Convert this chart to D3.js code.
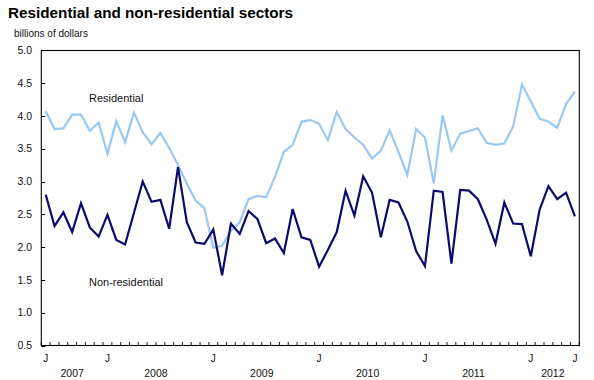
<!DOCTYPE html>
<html><head><meta charset="utf-8">
<script src="https://cdn.jsdelivr.net/npm/d3@7"></script>
<style>body{margin:0;background:#fff}svg{display:block;font-family:"Liberation Sans",Arial,sans-serif}</style>
</head><body><svg id="c" width="594" height="380"></svg>
<script>
// Monthly categories: June 2007 to June 2012
const months = d3.timeMonth.range(new Date(2007,5,1), new Date(2012,6,1)).map(d3.timeFormat("%Y-%m"));
const residential = [4.07,3.80,3.81,4.02,4.02,3.77,3.90,3.42,3.92,3.60,4.05,3.75,3.57,3.74,3.51,3.25,2.97,2.71,2.59,1.99,
  2.02,2.25,2.38,2.73,2.78,2.76,3.07,3.45,3.56,3.91,3.94,3.88,3.63,4.06,3.80,3.67,3.56,3.35,3.47,3.78,
  3.45,3.10,3.80,3.67,2.97,4.01,3.47,3.73,3.77,3.81,3.59,3.56,3.58,3.84,4.48,4.22,3.96,3.91,3.82,4.18,4.37];
const nonResidential = [2.80,2.32,2.53,2.23,2.67,2.30,2.16,2.49,2.11,2.04,2.52,3.00,2.69,2.72,2.28,3.22,2.38,2.07,2.05,2.27,
  1.57,2.36,2.20,2.55,2.43,2.06,2.13,1.91,2.58,2.15,2.11,1.70,1.96,2.23,2.86,2.48,3.08,2.83,2.15,2.72,
  2.68,2.39,1.94,1.71,2.86,2.84,1.75,2.87,2.86,2.73,2.42,2.05,2.68,2.36,2.35,1.86,2.57,2.93,2.73,2.83,2.47];
const yTicks = [5.0,4.5,4.0,3.5,3.0,2.5,2.0,1.5,1.0,0.5];
const monthLabelAt = ["2007-06","2008-01","2009-01","2010-01","2011-01","2012-01","2012-06"];
const monthLabelText = ["J","J","J","J","J","J","J"];
const years = ["2007","2008","2009","2010","2011","2012"];
const seriesNames = ["Residential","Non-residential"];
const title = "Residential and non-residential sectors";
const unit = "billions of dollars";

const svg = d3.select("#c");
const L = 41.3, R = 579.3, T = 50.3, B = 345.5;
const x = d3.scalePoint().domain(months).range([L, R]).padding(0.5);
const step = x.step();
const y = d3.scaleLinear().domain([0.5, 5]).range([B, T]);

svg.append("text").attr("x", 8).attr("y", 18).attr("font-weight", "bold").attr("font-size", 15)
  .attr("textLength", 285).attr("lengthAdjust", "spacingAndGlyphs").text(title);
svg.append("text").attr("x", 14).attr("y", 37).attr("font-size", 10).attr("fill", "#111").text(unit);

// y axis labels and ticks
svg.append("g").selectAll("text").data(yTicks).join("text")
  .attr("x", 32).attr("y", d => y(d)).attr("dy", "0.35em").attr("text-anchor", "end")
  .attr("font-size", 10.5).attr("fill", "#111").text(d => d.toFixed(1));
svg.append("g").selectAll("line").data(yTicks).join("line")
  .attr("x1", L).attr("x2", L + 4).attr("y1", d => Math.round(y(d)) + 0.5).attr("y2", d => Math.round(y(d)) + 0.5)
  .attr("stroke", "#000");

// month boundary ticks
const bounds = months.map(m => x(m) - step / 2).concat([R]);
svg.append("g").selectAll("line").data(bounds).join("line")
  .attr("x1", d => d).attr("x2", d => d).attr("y1", B).attr("y2", B - 3.5)
  .attr("stroke", "#000").attr("stroke-width", 0.9);

// frame
svg.append("rect").attr("x", L).attr("y", Math.round(T) + 0.5).attr("width", R - L).attr("height", B - Math.round(T) - 0.5)
  .attr("fill", "none").attr("stroke", "#000").attr("stroke-width", 1.1);

// month labels
svg.append("g").selectAll("text").data(monthLabelAt).join("text")
  .attr("x", d => x(d)).attr("y", 362).attr("text-anchor", "middle").attr("font-size", 10).attr("fill", "#111")
  .text((d, i) => monthLabelText[i]);

// year labels centred on their span
svg.append("g").selectAll("text").data(years).join("text")
  .attr("x", yr => {
    const ms = months.filter(m => m.startsWith(yr));
    return (x(ms[0]) - step / 2 + x(ms[ms.length - 1]) + step / 2) / 2;
  })
  .attr("y", 377).attr("text-anchor", "middle").attr("font-size", 10.5).attr("fill", "#111").text(d => d);

const line = d3.line().x((d, i) => x(months[i])).y(d => y(d));
svg.append("path").datum(residential).attr("d", line).attr("fill", "none")
  .attr("stroke", "#99c9f2").attr("stroke-width", 2.2).attr("stroke-linejoin", "miter");
svg.append("path").datum(nonResidential).attr("d", line).attr("fill", "none")
  .attr("stroke", "#0b0b6b").attr("stroke-width", 2.2).attr("stroke-linejoin", "miter");

svg.append("text").attr("x", 89).attr("y", 102).attr("font-size", 11).attr("fill", "#111").text(seriesNames[0]);
svg.append("text").attr("x", 89).attr("y", 286).attr("font-size", 11).attr("fill", "#111").text(seriesNames[1]);
</script></body></html>
